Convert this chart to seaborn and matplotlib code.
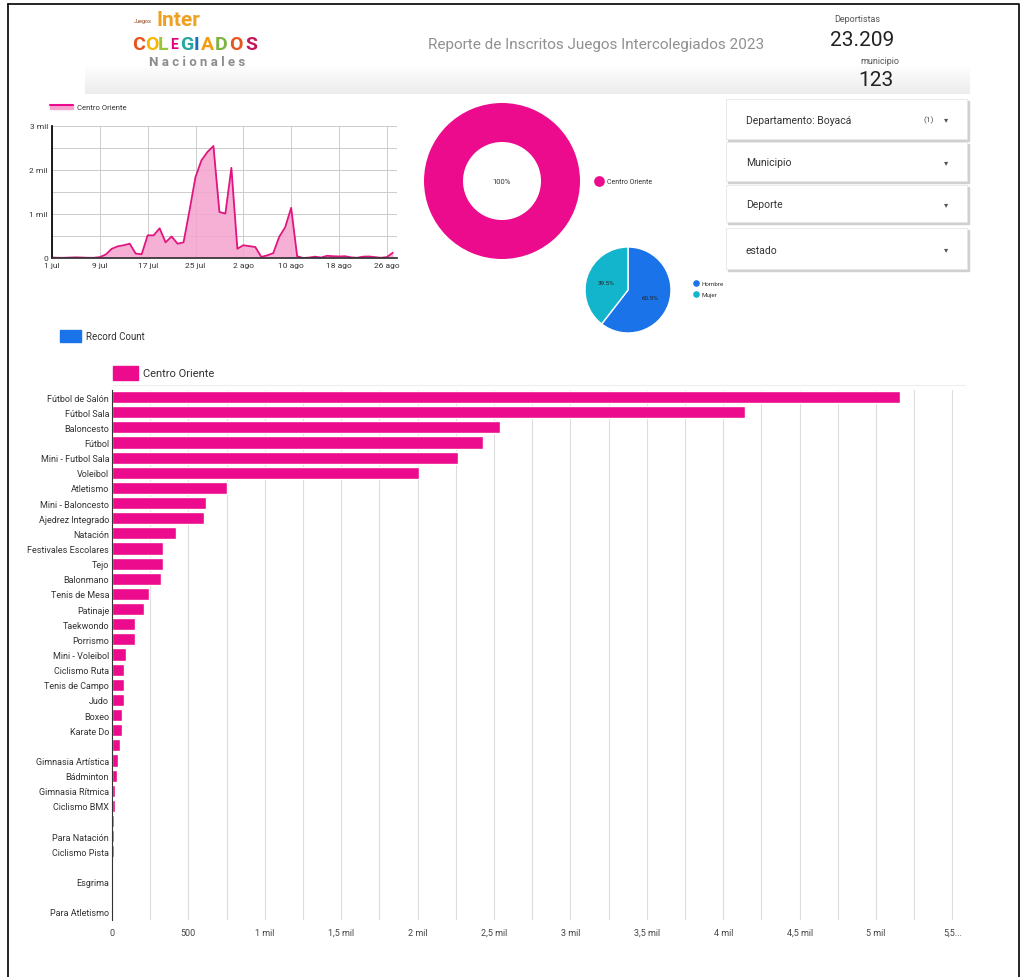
#%% bibliotecas
import numpy as np
import pandas as pd
import seaborn as sns
import matplotlib.pyplot as plt
import matplotlib.patches as mpatches
from matplotlib.colors import LinearSegmentedColormap

sns.set_theme(style="white")
plt.rcParams['font.family'] = ['Roboto', 'DejaVu Sans']

#%% datos
# inscritos por día (Centro Oriente), desde el 1 jul
inscritos_dia = [10, 5, 5, 10, 15, 10, 5, 5, 20, 80, 210, 265, 290, 325, 100, 85,
                 515, 515, 675, 355, 490, 325, 355, 1080, 1840, 2220, 2410, 2545,
                 1045, 1010, 2050, 210, 290, 270, 250, 25, 60, 110, 480, 700, 1140,
                 40, 0, 10, 30, 10, 50, 40, 35, 40, 15, 5, 30, 35, 20, 5, 20, 120]
fecha_inicio = "2023-07-01"
ticks_fecha = ["2023-07-01", "2023-07-09", "2023-07-17", "2023-07-25",
               "2023-08-02", "2023-08-10", "2023-08-18", "2023-08-26"]
labels_fecha = ["1 jul", "9 jul", "17 jul", "25 jul", "2 ago", "10 ago", "18 ago", "26 ago"]

regiones = ["Centro Oriente"]
region_pct = [100]

genero = ["Hombre", "Mujer"]
genero_pct = [60.5, 39.5]

deportes = ["Fútbol de Salón", "Fútbol Sala", "Baloncesto", "Fútbol", "Mini - Futbol Sala",
            "Voleibol", "Atletismo", "Mini - Baloncesto", "Ajedrez Integrado", "Natación",
            "Festivales Escolares", "Tejo", "Balonmano", "Tenis de Mesa", "Patinaje",
            "Taekwondo", "Porrismo", "Mini - Voleibol", "Ciclismo Ruta", "Tenis de Campo",
            "Judo", "Boxeo", "Karate Do", "Levantamiento de Pesas", "Gimnasia Artística",
            "Bádminton", "Gimnasia Rítmica", "Ciclismo BMX", "Ciclismo Montaña",
            "Para Natación", "Ciclismo Pista", "Tiro con Arco", "Esgrima", "Lucha",
            "Para Atletismo"]
inscritos_deporte = [5157, 4143, 2539, 2428, 2264, 2009, 750, 618, 603, 417,
                     334, 334, 318, 240, 210, 148, 150, 91, 78, 78,
                     77, 66, 65, 53, 37, 30, 22, 17, 14, 12,
                     12, 9, 3, 2, 1]
# etiquetas que el tablero no alcanza a mostrar
ocultas = ["Levantamiento de Pesas", "Ciclismo Montaña", "Tiro con Arco", "Lucha"]

ticks_x = [0, 500, 1000, 1500, 2000, 2500, 3000, 3500, 4000, 4500, 5000, 5500]
labels_x = ["0", "500", "1 mil", "1,5 mil", "2 mil", "2,5 mil", "3 mil", "3,5 mil",
            "4 mil", "4,5 mil", "5 mil", "5,5..."]

total_deportistas = "23.209"
total_municipios = "123"
filtros = ["Departamento: Boyacá", "Municipio", "Deporte", "estado"]

ROSA = "#ec0b8d"
AZUL = "#1a73e8"
CIAN = "#12b5cb"

#%% figura
W, H = 1026, 978
fig = plt.figure(figsize=(W / 100, H / 100), dpi=100)
fig.patch.set_facecolor("white")


def caja(x, y, w, h):
    # caja en pixeles (desde arriba a la izquierda) -> coords de figura
    return [x / W, 1 - (y + h) / H, w / W, h / H]


# capa de fondo para textos y adornos
bg = fig.add_axes([0, 0, 1, 1])
bg.set_xlim(0, W)
bg.set_ylim(H, 0)
bg.axis("off")

# marco
bg.plot([8, 1019, 1019], [5, 5, 978], color="black", lw=1.2)
bg.plot([8, 8], [5, 978], color="black", lw=1.2)

# franja gris del encabezado
gris = LinearSegmentedColormap.from_list("gris", ["#ffffff", "#ececec"])
grad = np.linspace(0, 1, 50).reshape(-1, 1)
bg.imshow(grad, extent=[85, 970, 95, 66], cmap=gris, aspect="auto", zorder=0)

# logo
bg.text(134, 22, "Juegos", fontsize=4, color="#8a3b12", ha="left", va="center")
bg.text(156, 20, "Inter", fontsize=15, fontweight="bold", color="#f0a020",
        ha="left", va="center")
cols_logo = ["#e8541c", "#f5b800", "#9bc53d", "#e6007e", "#2aa6a0", "#1f6fb5",
             "#f39c12", "#7cb342", "#e8541c", "#c2185b"]
xs_logo = [132, 145, 158, 170, 180, 194, 201, 215, 229, 245]
for letra, col, xl in zip("COLEGIADOS", cols_logo, xs_logo):
    bg.text(xl, 45, letra, fontsize=14 if letra != "E" else 10, fontweight="bold",
            color=col, ha="left", va="center")
bg.text(197, 63, "N a c i o n a l e s", fontsize=9.5, fontweight="bold", color="#8c8c8c",
        ha="center", va="center")

bg.text(596, 45, "Reporte de Inscritos Juegos Intercolegiados 2023", fontsize=11,
        color="#909090", ha="center", va="center")
bg.text(857, 19, "Deportistas", fontsize=6.5, color="#555555", ha="center", va="center")
bg.text(862, 40, total_deportistas, fontsize=15, color="#222222", ha="center", va="center")
bg.text(880, 61, "municipio", fontsize=6.5, color="#555555", ha="center", va="center")
bg.text(876, 81, total_municipios, fontsize=15, color="#222222", ha="center", va="center")

# filtros
cajas_filtro = [(100, 140), (143, 182), (186, 223), (229, 270)]
for (y0, y1), txt in zip(cajas_filtro, filtros):
    bg.add_patch(mpatches.Rectangle((728, y0 + 2), 241, y1 - y0, color="#d0d0d0", zorder=1))
    bg.add_patch(mpatches.Rectangle((726, y0), 241, y1 - y0, facecolor="white",
                                    edgecolor="#e6e6e6", lw=0.6, zorder=2))
    bg.text(746, (y0 + y1) / 2 + 1, txt, fontsize=7.5, color="#333333", ha="left",
            va="center", zorder=3)
    bg.text(946, (y0 + y1) / 2, "▾", fontsize=6, color="#555555", ha="center",
            va="center", zorder=3, family="DejaVu Sans")
bg.text(929, 120, "(1)", fontsize=6, color="#555555", ha="center", va="center")

# leyendas sueltas
bg.add_patch(mpatches.Rectangle((50, 106), 23, 4, color="#f5a3cf"))
bg.plot([50, 73], [106, 106], color=ROSA, lw=1.5)
bg.text(77, 108, "Centro Oriente", fontsize=5.5, color="#333333", va="center")

bg.add_patch(mpatches.Rectangle((60, 331), 21, 12, color=AZUL))
bg.text(86, 337, "Record Count", fontsize=7, color="#333333", va="center")

bg.add_patch(mpatches.Rectangle((113, 367), 25, 14, color=ROSA))
bg.text(143, 374, "Centro Oriente", fontsize=8, color="#333333", va="center")
bg.plot([113, 965], [386, 386], color="#eeeeee", lw=0.8)

#%% área: inscritos por fecha
fechas = pd.date_range(fecha_inicio, periods=len(inscritos_dia), freq="D")
df_dia = pd.DataFrame({"fecha": fechas, "inscritos": inscritos_dia})

ax1 = fig.add_axes(caja(52, 127, 345, 132))
sns.lineplot(data=df_dia, x="fecha", y="inscritos", color="#e0157f", lw=1.3, ax=ax1)
ax1.fill_between(df_dia["fecha"], df_dia["inscritos"], color="#f5a3cf", alpha=0.85, lw=0)
ax1.set_xlim(pd.Timestamp(fecha_inicio), pd.Timestamp(fecha_inicio) + pd.Timedelta(days=57.7))
ax1.set_ylim(0, 3000)
ax1.set_xticks(pd.to_datetime(ticks_fecha))
ax1.set_xticklabels(labels_fecha)
ax1.set_yticks([0, 1000, 2000, 3000])
ax1.set_yticklabels(["0", "1 mil", "2 mil", "3 mil"])
ax1.set_yticks([500, 1500, 2500], minor=True)
ax1.grid(True, which="both", color="#cccccc", lw=0.7)
ax1.set_xlabel("")
ax1.set_ylabel("")
ax1.tick_params(labelsize=6, colors="#333333", length=0, pad=3)
for s in ["top", "right"]:
    ax1.spines[s].set_visible(False)
ax1.spines["left"].set_color("black")
ax1.spines["bottom"].set_color("#333333")
ax1.set_axisbelow(True)

#%% dona por región
ax2 = fig.add_axes(caja(424, 104, 156, 156))
ax2.pie(region_pct, colors=[ROSA], startangle=90, counterclock=False,
        wedgeprops=dict(width=0.5, edgecolor="white", lw=0))
ax2.text(0, 0, "100%", fontsize=5.5, ha="center", va="center", color="#333333")
ax2.set_xlim(-1, 1)
ax2.set_ylim(-1, 1)
ax2.set_aspect("equal")
bg.scatter([599], [182], s=45, color=ROSA)
bg.text(607, 182, regiones[0], fontsize=5, color="#333333", va="center")

#%% torta por género
ax3 = fig.add_axes(caja(585, 248, 86, 86))
ax3.pie(genero_pct, colors=[AZUL, CIAN], startangle=90, counterclock=False,
        autopct="%.1f%%", pctdistance=0.55,
        textprops=dict(fontsize=4.5, color="#222222"))
ax3.set_xlim(-1, 1)
ax3.set_ylim(-1, 1)
ax3.set_aspect("equal")
for i, (g, c) in enumerate(zip(genero, [AZUL, CIAN])):
    bg.scatter([696], [284 + i * 11], s=14, color=c)
    bg.text(702, 284 + i * 11, g, fontsize=4.5, color="#333333", va="center")

#%% barras por deporte
df_dep = pd.DataFrame({"deporte": deportes, "inscritos": inscritos_deporte})
ax4 = fig.add_axes(caja(112, 390.5, 853, 530))
sns.barplot(data=df_dep, x="inscritos", y="deporte", color=ROSA, saturation=1,
            width=0.8, ax=ax4)
ax4.set_xlim(0, 5582)
ax4.set_xticks(ticks_x)
ax4.set_xticklabels(labels_x)
ax4.set_xticks(np.arange(250, 5600, 500), minor=True)
ax4.grid(True, axis="x", which="both", color="#dddddd", lw=0.8)
ax4.set_axisbelow(True)
ax4.set_yticklabels(["" if d in ocultas else d for d in deportes])
ax4.set_xlabel("")
ax4.set_ylabel("")
ax4.tick_params(axis="y", labelsize=6.5, colors="#333333", length=0, pad=2)
ax4.tick_params(axis="x", labelsize=6.5, colors="#444444", length=0, pad=6)
for s in ["top", "right", "bottom"]:
    ax4.spines[s].set_visible(False)
ax4.spines["left"].set_color("#333333")
ax4.spines["left"].set_linewidth(0.8)

fig.savefig("out.png", dpi=100)
